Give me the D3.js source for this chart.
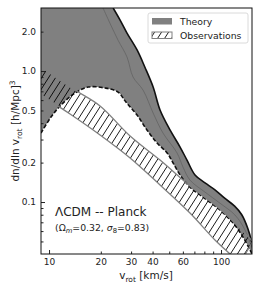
<!DOCTYPE html>
<html>
<head>
<meta charset="utf-8">
<script src="https://cdn.jsdelivr.net/npm/d3@7"></script>
<style>
  body { margin: 0; background: #fff; }
  text { font-family: "DejaVu Sans", sans-serif; fill: #222; }
</style>
</head>
<body>
<svg></svg>
<script>
const width = 261;
const height = 290;

// theory band (v_rot [km/s], dn/dln v)
const theoryUpper = [[23.6, 3.03], [25.9, 2.45], [28.4, 1.95], [32.5, 1.45], [36.1, 1.07], [40.3, 0.755],
  [44.2, 0.504], [50.5, 0.355], [57.8, 0.263], [63.4, 0.209], [70.6, 0.161], [80.7, 0.140], [92.2, 0.124],
  [105, 0.107], [120, 0.093], [132, 0.080], [143, 0.063], [151, 0.049], [156, 0.038]];
const theoryLower = [[8.98, 0.336], [10.27, 0.446], [11.74, 0.55], [14.16, 0.679], [16.86, 0.755], [21.2, 0.742],
  [25.2, 0.691], [28.0, 0.58], [32.5, 0.461], [37.1, 0.355], [42.5, 0.282], [48.6, 0.237], [52.6, 0.199],
  [57.8, 0.161], [66.0, 0.13], [78.5, 0.109], [98.6, 0.0869], [117.5, 0.0691], [134.2, 0.054],
  [147.5, 0.043], [153.5, 0.0387]];
const theoryMedian = [[20.6, 3.03], [22.6, 2.32], [25.2, 1.72], [28.4, 1.28], [30.8, 0.90], [35.2, 0.716],
  [40.3, 0.478], [46.0, 0.336], [55.5, 0.237], [60.1, 0.185], [66.0, 0.147], [80.7, 0.119], [98.6, 0.098],
  [120.5, 0.0796], [138, 0.0611], [151.4, 0.0445]];

// observations band
const obsUpper = [[8.9, 1.08], [14.16, 0.716], [19.8, 0.541], [29.6, 0.319], [44.2, 0.209], [66.0, 0.1325],
  [98.6, 0.0885], [153, 0.050]];
const obsLower = [[8.9, 0.66], [13.25, 0.47], [19.8, 0.325], [29.6, 0.217], [44.2, 0.135], [66.0, 0.0824],
  [92.2, 0.0513], [112.8, 0.0401], [128.9, 0.0342]];

const xMajor = [10, 100];
const xMinor = [20, 30, 40, 50, 60, 70, 80, 90];
const xLabels = [10, 20, 30, 40, 60, 100];
const yMajor = [0.1, 1];
const yMinor = [0.05, 0.06, 0.07, 0.08, 0.09, 0.2, 0.3, 0.4, 0.5, 0.6, 0.7, 0.8, 0.9, 2];
const yLabels = [0.1, 0.2, 0.5, 1, 2];

const margin = {top: 8, right: 9, bottom: 36, left: 41};

const svg = d3.select("svg")
  .attr("width", width)
  .attr("height", height);

const x = d3.scaleLog().domain([8.98, 151.4]).range([margin.left, width - margin.right]);
const y = d3.scaleLog().domain([0.0401, 3.03]).range([height - margin.bottom, margin.top]);

const defs = svg.append("defs");
defs.append("clipPath").attr("id", "plotClip")
  .append("rect")
  .attr("x", margin.left).attr("y", margin.top)
  .attr("width", width - margin.left - margin.right)
  .attr("height", height - margin.top - margin.bottom);

const hatch = defs.append("pattern")
  .attr("id", "hatch")
  .attr("patternUnits", "userSpaceOnUse")
  .attr("width", 7).attr("height", 11);
[-7, 0, 7].forEach(off => {
  hatch.append("line")
    .attr("x1", off).attr("y1", 11).attr("x2", off + 7).attr("y2", 0)
    .attr("stroke", "#000").attr("stroke-width", 0.9);
});

const line = d3.line()
  .x(d => x(d[0]))
  .y(d => y(d[1]))
  .curve(d3.curveCatmullRom);

const plot = svg.append("g").attr("clip-path", "url(#plotClip)");

// theory fill: top-left corner, upper edge, lower edge back
const corner = [x.domain()[0] * 0.98, y.domain()[1] * 1.05];
const areaPath = "M" + x(corner[0]) + "," + y(corner[1]) +
  "L" + x(theoryUpper[0][0]) + "," + y(corner[1]) +
  "L" + line(theoryUpper).slice(1) +
  "L" + line(theoryLower.slice().reverse()).slice(1) +
  "L" + x(corner[0]) + "," + y(theoryLower[0][1] * 0.9) + "Z";

plot.append("path")
  .attr("d", areaPath)
  .attr("fill", "#808080")
  .attr("stroke", "none");

plot.append("path")
  .attr("d", line(theoryMedian))
  .attr("fill", "none")
  .attr("stroke", "#5e5e5e")
  .attr("stroke-width", 0.7);

plot.append("path")
  .attr("d", line(theoryUpper))
  .attr("fill", "none")
  .attr("stroke", "#111")
  .attr("stroke-width", 1.6);

plot.append("path")
  .attr("d", line(theoryLower))
  .attr("fill", "none")
  .attr("stroke", "#111")
  .attr("stroke-width", 1.6)
  .attr("stroke-dasharray", "4,2");

// observations band: hatch only
const obsPath = line(obsUpper) + "L" + line(obsLower.slice().reverse()).slice(1) + "Z";
plot.append("path")
  .attr("d", obsPath)
  .attr("fill", "url(#hatch)")
  .attr("stroke", "#808080")
  .attr("stroke-width", 1.3);

// axes, ticks inside
const bottom = height - margin.bottom;
function xAxis(vals, len, labels) {
  const g = svg.append("g")
    .attr("transform", "translate(0," + bottom + ")")
    .call(d3.axisBottom(x).tickValues(vals).tickSize(-len).tickPadding(5)
      .tickFormat(d => labels.includes(d) ? d : ""));
  g.select(".domain").remove();
  g.selectAll("text").style("font-size", "9px").attr("fill", "#222");
  g.selectAll("line").attr("stroke", "#222");
}
xAxis(xMajor, 4, xLabels);
xAxis(xMinor, 2.5, xLabels);

function yAxis(vals, len, labels) {
  const g = svg.append("g")
    .attr("transform", "translate(" + margin.left + ",0)")
    .call(d3.axisLeft(y).tickValues(vals).tickSize(-len).tickPadding(5)
      .tickFormat(d => labels.includes(d) ? d3.format(".1f")(d) : ""));
  g.select(".domain").remove();
  g.selectAll("text").style("font-size", "9px").attr("fill", "#222");
  g.selectAll("line").attr("stroke", "#222");
}
yAxis(yMajor, 4, yLabels);
yAxis(yMinor, 2.5, yLabels);

svg.append("rect")
  .attr("x", margin.left).attr("y", margin.top)
  .attr("width", width - margin.left - margin.right)
  .attr("height", height - margin.top - margin.bottom)
  .attr("fill", "none")
  .attr("stroke", "#111")
  .attr("stroke-width", 1);

// axis labels
const xl = svg.append("text")
  .attr("x", 146)
  .attr("y", 279)
  .attr("text-anchor", "middle")
  .style("font-size", "10.5px");
xl.append("tspan").text("v");
xl.append("tspan").attr("dy", 2.5).style("font-size", "7.5px").text("rot");
xl.append("tspan").attr("dy", -2.5).text(" [km/s]");

const yl = svg.append("text")
  .attr("transform", "translate(19,131) rotate(-90)")
  .attr("text-anchor", "middle")
  .style("font-size", "10.5px");
yl.append("tspan").text("dn/dln v");
yl.append("tspan").attr("dy", 2.5).style("font-size", "7.5px").text("rot");
yl.append("tspan").attr("dy", -2.5).text(" [h/Mpc]");
yl.append("tspan").attr("dy", -4).style("font-size", "7.5px").text("3");

// annotation
svg.append("text")
  .attr("x", 55).attr("y", 216)
  .style("font-size", "12px")
  .text("\u039BCDM -- Planck");

const ann = svg.append("text")
  .attr("x", 55).attr("y", 231)
  .style("font-size", "9.3px");
ann.append("tspan").text("(\u03A9");
ann.append("tspan").attr("dy", 2).style("font-size", "6.8px").style("font-style", "italic").text("m");
ann.append("tspan").attr("dy", -2).text("=0.32, ");
ann.append("tspan").style("font-style", "italic").text("\u03C3");
ann.append("tspan").attr("dy", 2).style("font-size", "6.8px").text("8");
ann.append("tspan").attr("dy", -2).text("=0.83)");

// legend
const legend = svg.append("g");
legend.append("rect")
  .attr("x", 148).attr("y", 13).attr("width", 100).attr("height", 30).attr("rx", 2)
  .attr("fill", "#fff").attr("fill-opacity", 0.85)
  .attr("stroke", "#d0d0d0").attr("stroke-width", 0.8);
legend.append("rect")
  .attr("x", 152).attr("y", 18).attr("width", 20).attr("height", 6.5)
  .attr("fill", "#808080");
legend.append("rect")
  .attr("x", 152).attr("y", 32).attr("width", 20).attr("height", 6.5)
  .attr("fill", "url(#hatch)").attr("stroke", "#808080").attr("stroke-width", 1);
legend.append("text").attr("x", 180).attr("y", 25).style("font-size", "9.3px").text("Theory");
legend.append("text").attr("x", 180).attr("y", 39).style("font-size", "9.3px").text("Observations");
</script>
</body>
</html>
